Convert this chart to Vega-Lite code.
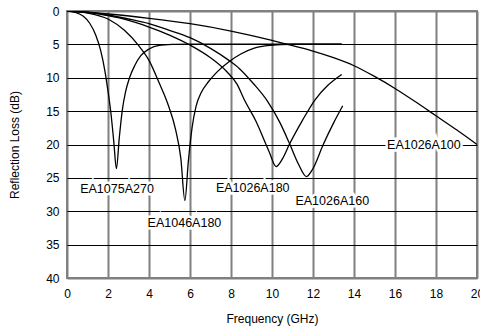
{
  "$schema": "https://vega.github.io/schema/vega-lite/v6.json",
  "width": 410,
  "height": 267,
  "autosize": {"type": "none"},
  "padding": {"left": 67, "top": 11, "right": 3, "bottom": 49},
  "background": "white",
  "config": {
    "font": "Liberation Sans",
    "view": {"stroke": "#808080", "strokeWidth": 2},
    "axis": {"labelFont": "Liberation Sans", "titleFont": "Liberation Sans", "labelFontSize": 12, "titleFontSize": 12, "titleFontWeight": "normal", "labelColor": "#000", "titleColor": "#000", "domain": false, "ticks": false, "labelOverlap": false}
  },
  "datasets": {
    "curves": [
      {"series": "EA1075A270", "f": 0, "db": 0},
      {"series": "EA1075A270", "f": 0.4, "db": 0.2},
      {"series": "EA1075A270", "f": 0.8, "db": 0.8},
      {"series": "EA1075A270", "f": 1.1, "db": 1.8},
      {"series": "EA1075A270", "f": 1.4, "db": 3.6},
      {"series": "EA1075A270", "f": 1.65, "db": 6},
      {"series": "EA1075A270", "f": 1.85, "db": 9},
      {"series": "EA1075A270", "f": 2.0, "db": 12},
      {"series": "EA1075A270", "f": 2.15, "db": 15.5},
      {"series": "EA1075A270", "f": 2.28, "db": 19.5},
      {"series": "EA1075A270", "f": 2.41, "db": 23.6},
      {"series": "EA1075A270", "f": 2.55, "db": 19},
      {"series": "EA1075A270", "f": 2.7, "db": 14.8},
      {"series": "EA1075A270", "f": 2.85, "db": 12.2},
      {"series": "EA1075A270", "f": 3.05, "db": 10.0},
      {"series": "EA1075A270", "f": 3.3, "db": 8.2},
      {"series": "EA1075A270", "f": 3.6, "db": 6.7},
      {"series": "EA1075A270", "f": 4.0, "db": 5.7},
      {"series": "EA1075A270", "f": 4.5, "db": 5.15},
      {"series": "EA1075A270", "f": 5.2, "db": 5.0},
      {"series": "EA1075A270", "f": 6, "db": 4.95},
      {"series": "EA1075A270", "f": 13.4, "db": 4.95},
      {"series": "EA1046A180", "f": 0, "db": 0},
      {"series": "EA1046A180", "f": 1, "db": 0.3},
      {"series": "EA1046A180", "f": 2, "db": 1.2},
      {"series": "EA1046A180", "f": 2.8, "db": 2.9},
      {"series": "EA1046A180", "f": 3.5, "db": 5.2},
      {"series": "EA1046A180", "f": 4.0, "db": 7.4},
      {"series": "EA1046A180", "f": 4.5, "db": 10.8},
      {"series": "EA1046A180", "f": 4.95, "db": 14.2},
      {"series": "EA1046A180", "f": 5.3, "db": 17.8},
      {"series": "EA1046A180", "f": 5.55, "db": 22},
      {"series": "EA1046A180", "f": 5.75, "db": 28.4},
      {"series": "EA1046A180", "f": 5.92, "db": 22.5},
      {"series": "EA1046A180", "f": 6.1, "db": 17.5},
      {"series": "EA1046A180", "f": 6.3, "db": 14.2},
      {"series": "EA1046A180", "f": 6.55, "db": 12.2},
      {"series": "EA1046A180", "f": 6.9, "db": 10.6},
      {"series": "EA1046A180", "f": 7.3, "db": 9.2},
      {"series": "EA1046A180", "f": 7.9, "db": 7.6},
      {"series": "EA1046A180", "f": 8.5, "db": 6.4},
      {"series": "EA1046A180", "f": 9.1, "db": 5.6},
      {"series": "EA1046A180", "f": 9.9, "db": 5.15},
      {"series": "EA1046A180", "f": 11, "db": 4.98},
      {"series": "EA1046A180", "f": 13.4, "db": 4.95},
      {"series": "EA1026A180", "f": 0, "db": 0},
      {"series": "EA1026A180", "f": 1, "db": 0.2},
      {"series": "EA1026A180", "f": 2, "db": 0.7},
      {"series": "EA1026A180", "f": 3, "db": 1.4},
      {"series": "EA1026A180", "f": 4, "db": 2.4},
      {"series": "EA1026A180", "f": 5, "db": 3.6},
      {"series": "EA1026A180", "f": 6, "db": 5.1},
      {"series": "EA1026A180", "f": 7, "db": 7.0},
      {"series": "EA1026A180", "f": 7.8, "db": 9.1},
      {"series": "EA1026A180", "f": 8.3, "db": 11.0},
      {"series": "EA1026A180", "f": 8.65, "db": 13.3},
      {"series": "EA1026A180", "f": 9.2, "db": 16.4},
      {"series": "EA1026A180", "f": 9.85, "db": 21.0},
      {"series": "EA1026A180", "f": 10.2, "db": 23.3},
      {"series": "EA1026A180", "f": 10.5, "db": 22.2},
      {"series": "EA1026A180", "f": 10.86, "db": 19.9},
      {"series": "EA1026A180", "f": 11.5, "db": 16.3},
      {"series": "EA1026A180", "f": 12.1, "db": 13.3},
      {"series": "EA1026A180", "f": 12.7, "db": 11.2},
      {"series": "EA1026A180", "f": 13.4, "db": 9.5},
      {"series": "EA1026A160", "f": 0, "db": 0},
      {"series": "EA1026A160", "f": 1, "db": 0.15},
      {"series": "EA1026A160", "f": 2, "db": 0.6},
      {"series": "EA1026A160", "f": 3, "db": 1.2},
      {"series": "EA1026A160", "f": 4, "db": 1.9},
      {"series": "EA1026A160", "f": 5, "db": 2.9},
      {"series": "EA1026A160", "f": 6, "db": 4.0},
      {"series": "EA1026A160", "f": 7, "db": 5.6},
      {"series": "EA1026A160", "f": 7.9, "db": 7.4},
      {"series": "EA1026A160", "f": 8.4, "db": 8.6},
      {"series": "EA1026A160", "f": 9.1, "db": 10.9},
      {"series": "EA1026A160", "f": 9.8, "db": 13.6},
      {"series": "EA1026A160", "f": 10.4, "db": 16.8},
      {"series": "EA1026A160", "f": 10.86, "db": 19.9},
      {"series": "EA1026A160", "f": 11.3, "db": 23},
      {"series": "EA1026A160", "f": 11.68, "db": 24.8},
      {"series": "EA1026A160", "f": 12.0, "db": 23.6},
      {"series": "EA1026A160", "f": 12.5, "db": 20},
      {"series": "EA1026A160", "f": 13.0, "db": 16.8},
      {"series": "EA1026A160", "f": 13.45, "db": 14.2},
      {"series": "EA1026A100", "f": 0, "db": 0},
      {"series": "EA1026A100", "f": 2, "db": 0.45},
      {"series": "EA1026A100", "f": 4, "db": 1.1},
      {"series": "EA1026A100", "f": 6, "db": 1.9},
      {"series": "EA1026A100", "f": 8, "db": 3.0},
      {"series": "EA1026A100", "f": 10, "db": 4.4},
      {"series": "EA1026A100", "f": 11, "db": 5.2},
      {"series": "EA1026A100", "f": 12, "db": 6.0},
      {"series": "EA1026A100", "f": 13, "db": 7.0},
      {"series": "EA1026A100", "f": 14, "db": 8.2},
      {"series": "EA1026A100", "f": 15, "db": 9.8},
      {"series": "EA1026A100", "f": 16, "db": 11.6},
      {"series": "EA1026A100", "f": 17, "db": 13.6},
      {"series": "EA1026A100", "f": 18, "db": 15.7},
      {"series": "EA1026A100", "f": 19, "db": 17.8},
      {"series": "EA1026A100", "f": 20, "db": 20}
    ],
    "labels": [
      {"label": "EA1075A270", "f": 2.44, "db": 26.7},
      {"label": "EA1046A180", "f": 5.73, "db": 31.8},
      {"label": "EA1026A180", "f": 9.06, "db": 26.5},
      {"label": "EA1026A160", "f": 12.94, "db": 28.4},
      {"label": "EA1026A100", "f": 17.41, "db": 20.1}
    ]
  },
  "encoding": {
    "x": {"field": "f", "type": "quantitative", "scale": {"domain": [0, 20], "nice": false}, "title": "Frequency (GHz)",
      "axis": {"values": [0, 2, 4, 6, 8, 10, 12, 14, 16, 18, 20], "grid": true, "gridColor": "#808080", "gridWidth": 2, "gridOpacity": 1, "labelPadding": 10, "titlePadding": 14, "labelFlush": false}},
    "y": {"field": "db", "type": "quantitative", "scale": {"domain": [0, 40], "reverse": true, "nice": false}, "title": "Reflection Loss (dB)",
      "axis": {"values": [0, 5, 10, 15, 20, 25, 30, 35, 40], "grid": true, "gridColor": {"condition": {"test": "datum.value === 0 || datum.value === 40", "value": "#808080"}, "value": "#000000"}, "gridWidth": {"condition": {"test": "datum.value === 0 || datum.value === 40", "value": 2}, "value": 1}, "gridOpacity": 1, "labelPadding": 8, "titlePadding": 24, "labelFlush": false}}
  },
  "layer": [
    {
      "data": {"name": "curves"},
      "mark": {"type": "line", "color": "black", "strokeWidth": 1.3, "interpolate": "monotone", "clip": true},
      "encoding": {
        "detail": {"field": "series"}
      }
    },
    {
      "data": {"name": "labels"},
      "mark": {"type": "text", "fontSize": 12.5, "stroke": "white", "strokeWidth": 5, "fill": "white", "align": "center", "baseline": "middle"},
      "encoding": {
        "text": {"field": "label"}
      }
    },
    {
      "data": {"name": "labels"},
      "mark": {"type": "text", "fontSize": 12.5, "color": "black", "align": "center", "baseline": "middle"},
      "encoding": {
        "text": {"field": "label"}
      }
    }
  ]
}
